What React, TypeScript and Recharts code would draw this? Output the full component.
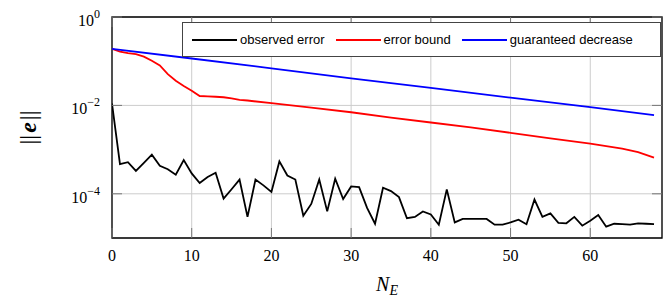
import { CartesianGrid, Line, LineChart, ReferenceArea, XAxis, YAxis } from "recharts";

// plot box (pixels) - margins below are derived from these
const W = 666;
const H = 302;
const LEFT = 112;
const RIGHT = 662;
const TOP = 17;
const BOTTOM = 238;

const xTicks = [0, 10, 20, 30, 40, 50, 60];
const yTicks = [1e-4, 1e-2, 1];

// observed error, one value per N_E = 0..68
const observedError = [
    0.011, 4.7e-4, 5.2e-4, 3.3e-4, 5.0e-4, 7.7e-4, 4.3e-4, 3.6e-4, 2.7e-4, 5.8e-4,
    2.9e-4, 1.75e-4, 2.4e-4, 3.0e-4, 7.8e-5, 1.27e-4, 2.1e-4, 3.0e-5, 2.1e-4, 1.55e-4,
    1.1e-4, 5.4e-4, 2.6e-4, 2.1e-4, 3.2e-5, 5.9e-5, 2.1e-4, 4.0e-5, 2.2e-4, 7.6e-5,
    1.47e-4, 1.42e-4, 4.8e-5, 2.1e-5, 1.37e-4, 1.15e-4, 8.4e-5, 2.8e-5, 3.0e-5, 4.0e-5,
    3.4e-5, 2.0e-5, 1.26e-4, 2.25e-5, 2.7e-5, 2.7e-5, 2.7e-5, 2.7e-5, 2.0e-5, 2.0e-5,
    2.25e-5, 2.6e-5, 2.05e-5, 7.4e-5, 3.0e-5, 3.6e-5, 2.2e-5, 2.15e-5, 3.0e-5, 1.9e-5,
    2.45e-5, 3.3e-5, 1.8e-5, 2.1e-5, 2.05e-5, 2.0e-5, 2.15e-5, 2.1e-5, 2.05e-5,
];

const boundX = [0, 1, 2, 3, 4, 5, 6, 7, 8, 9, 10, 11, 12, 13, 14, 15, 16, 17, 20, 25, 30, 35, 40, 45, 50, 55, 60, 62, 64, 66, 68];
const boundValues = [
    0.19, 0.165, 0.152, 0.144, 0.127, 0.102, 0.08, 0.051, 0.036, 0.0275, 0.0214,
    0.0163, 0.016, 0.0157, 0.0153, 0.0145, 0.0134, 0.0129, 0.0112, 0.0089, 0.007,
    0.0053, 0.0041, 0.0032, 0.0024, 0.0018, 0.00137, 0.0012, 0.00105, 0.00088, 0.00066,
];

const decreaseX = [0, 10, 20, 30, 40, 50, 60, 68];
const decreaseValues = [0.19, 0.115, 0.069, 0.041, 0.025, 0.015, 0.0091, 0.006];

const series = [
    { name: "observed error", color: "#000000" },
    { name: "error bound", color: "#ff0000" },
    { name: "guaranteed decrease", color: "#0000ff" },
];

const observedData = observedError.map((y, x) => ({ x, y }));
const boundData = boundX.map((x, i) => ({ x, y: boundValues[i] }));
const decreaseData = decreaseX.map((x, i) => ({ x, y: decreaseValues[i] }));

const serif = "'Liberation Serif', serif";
const sans = "'Liberation Sans', Arial, sans-serif";

const XTick = ({ x, payload }: any) => (
    <g>
        <line x1={x} x2={x} y1={BOTTOM} y2={BOTTOM - 10} stroke="#777" />
        <line x1={x} x2={x} y1={TOP} y2={TOP + 10} stroke="#777" />
        <text x={x} y={BOTTOM + 23} textAnchor="middle" fontFamily={serif} fontSize={16} fill="#000">
            {payload.value}
        </text>
    </g>
);

const YTick = ({ y, payload }: any) => {
    const exp = Math.round(Math.log10(payload.value));
    return (
        <g>
            <line x1={LEFT} x2={LEFT + 10} y1={y} y2={y} stroke="#777" />
            <line x1={RIGHT} x2={RIGHT - 10} y1={y} y2={y} stroke="#777" />
            <text x={LEFT - 12} y={y + 9} textAnchor="end" fontFamily={serif} fontSize={16} fill="#000">
                10
                <tspan dy={-8} fontSize={12}>{exp < 0 ? `\u2212${-exp}` : exp}</tspan>
            </text>
        </g>
    );
};

export default function App() {
    return (
        <div style={{ position: "absolute", left: 0, top: 0, width: W, height: H, background: "#fff" }}>
            <LineChart
                width={W}
                height={H}
                margin={{ top: TOP, right: W - RIGHT, bottom: H - BOTTOM - 40, left: 0 }}
            >
                <CartesianGrid stroke="#cccccc" />
                <XAxis
                    type="number"
                    dataKey="x"
                    domain={[0, 69]}
                    ticks={xTicks}
                    interval={0}
                    height={40}
                    tickSize={0}
                    tickMargin={0}
                    axisLine={false}
                    tick={XTick}
                    allowDataOverflow
                />
                <YAxis
                    scale="log"
                    domain={[1e-5, 1]}
                    ticks={yTicks}
                    interval={0}
                    width={LEFT}
                    tickSize={0}
                    tickMargin={0}
                    axisLine={false}
                    tick={YTick}
                    allowDataOverflow
                />
                <Line data={boundData} dataKey="y" stroke="#ff0000" strokeWidth={1.8} dot={false} isAnimationActive={false} />
                <Line data={decreaseData} dataKey="y" stroke="#0000ff" strokeWidth={1.8} dot={false} isAnimationActive={false} />
                <Line data={observedData} dataKey="y" stroke="#000000" strokeWidth={1.8} dot={false} isAnimationActive={false} />
                <ReferenceArea x1={0} x2={69} y1={1e-5} y2={1} fill="none" stroke="#000" strokeWidth={1.3} />
            </LineChart>

            {/* axis labels */}
            <svg width={W} height={H} style={{ position: "absolute", left: 0, top: 0, pointerEvents: "none" }}>
                <text x={(LEFT + RIGHT) / 2} y={291} textAnchor="middle" fontFamily={serif} fontSize={20} fontStyle="italic">
                    N<tspan dy={4} fontSize={14}>E</tspan>
                </text>
                <text
                    transform={`translate(36, ${(TOP + BOTTOM) / 2}) rotate(-90)`}
                    textAnchor="middle"
                    fontFamily={serif}
                    fontSize={24}
                >
                    ||<tspan fontWeight="bold" fontStyle="italic" dx={2}>e</tspan><tspan dx={2}>||</tspan>
                </text>
            </svg>

            {/* legend */}
            <div
                style={{
                    position: "absolute",
                    left: 182,
                    top: 22,
                    width: 468,
                    height: 33,
                    border: "1px solid #444",
                    background: "#fff",
                    display: "flex",
                    alignItems: "center",
                    paddingLeft: 9,
                    boxSizing: "content-box",
                    fontFamily: sans,
                    fontSize: 13,
                    color: "#000",
                }}
            >
                {series.map(s => (
                    <div key={s.name} style={{ display: "flex", alignItems: "center", marginRight: 11 }}>
                        <span style={{ display: "inline-block", width: 45, height: 2, background: s.color, marginRight: 3 }} />
                        <span>{s.name}</span>
                    </div>
                ))}
            </div>
        </div>
    );
}
